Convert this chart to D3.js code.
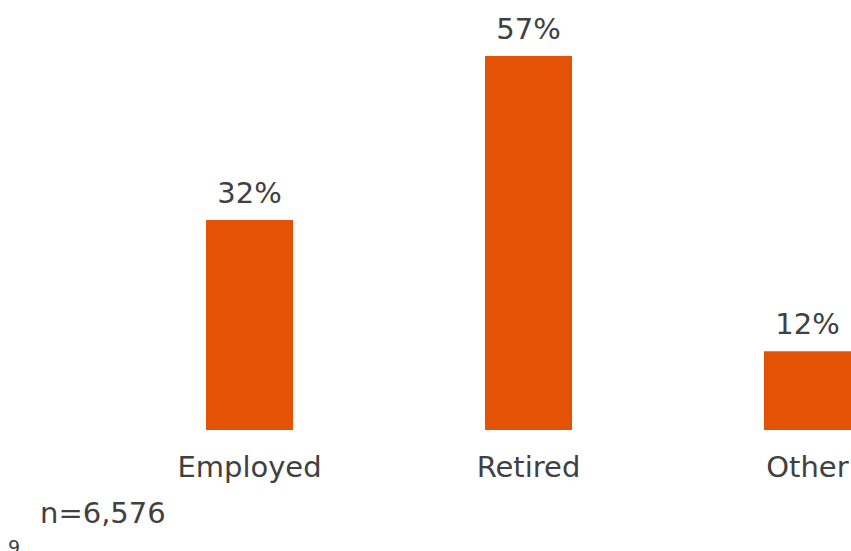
<!DOCTYPE html>
<html>
<head>
<meta charset="utf-8">
<script src="https://cdn.jsdelivr.net/npm/d3@7"></script>
<style>
    body { margin: 0; background: #fff; }
    text { font-family: 'DejaVu Sans', Verdana, sans-serif; fill: #404040; }
</style>
</head>
<body>
<script>
const categories = ['Employed', 'Retired', 'Other'];
const values = [32, 57, 12];
const sampleNote = 'n=6,576';
const pageNumber = '9';

const width = 851;
const height = 551;
const baseline = 430;

const svg = d3.select('body')
    .append('svg')
    .attr('width', width)
    .attr('height', height);

const x = d3.scaleBand()
    .domain(categories)
    .range([206, 851])
    .paddingInner(0.688)
    .paddingOuter(0);

const y = d3.scaleLinear()
    .domain([0, 57])
    .range([baseline, 56]);

svg.selectAll('rect.bar')
    .data(values)
    .join('rect')
    .attr('class', 'bar')
    .attr('x', (d, i) => x(categories[i]))
    .attr('y', d => y(d))
    .attr('width', x.bandwidth())
    .attr('height', d => baseline - y(d))
    .attr('fill', '#E35205');

svg.selectAll('text.value')
    .data(values)
    .join('text')
    .attr('class', 'value')
    .attr('x', (d, i) => x(categories[i]) + x.bandwidth() / 2)
    .attr('y', d => y(d) - 17)
    .attr('text-anchor', 'middle')
    .style('font-size', '29px')
    .text(d => `${d}%`);

svg.selectAll('text.cat')
    .data(categories)
    .join('text')
    .attr('class', 'cat')
    .attr('x', d => x(d) + x.bandwidth() / 2)
    .attr('y', 477)
    .attr('text-anchor', 'middle')
    .style('font-size', '29px')
    .text(d => d);

svg.append('text')
    .attr('x', 40)
    .attr('y', 523)
    .style('font-size', '29px')
    .text(sampleNote);

// page number sits at the bottom edge, partly cut off as in the source slide
svg.append('text')
    .attr('x', 8)
    .attr('y', 554)
    .style('font-size', '19px')
    .text(pageNumber);
</script>
</body>
</html>
